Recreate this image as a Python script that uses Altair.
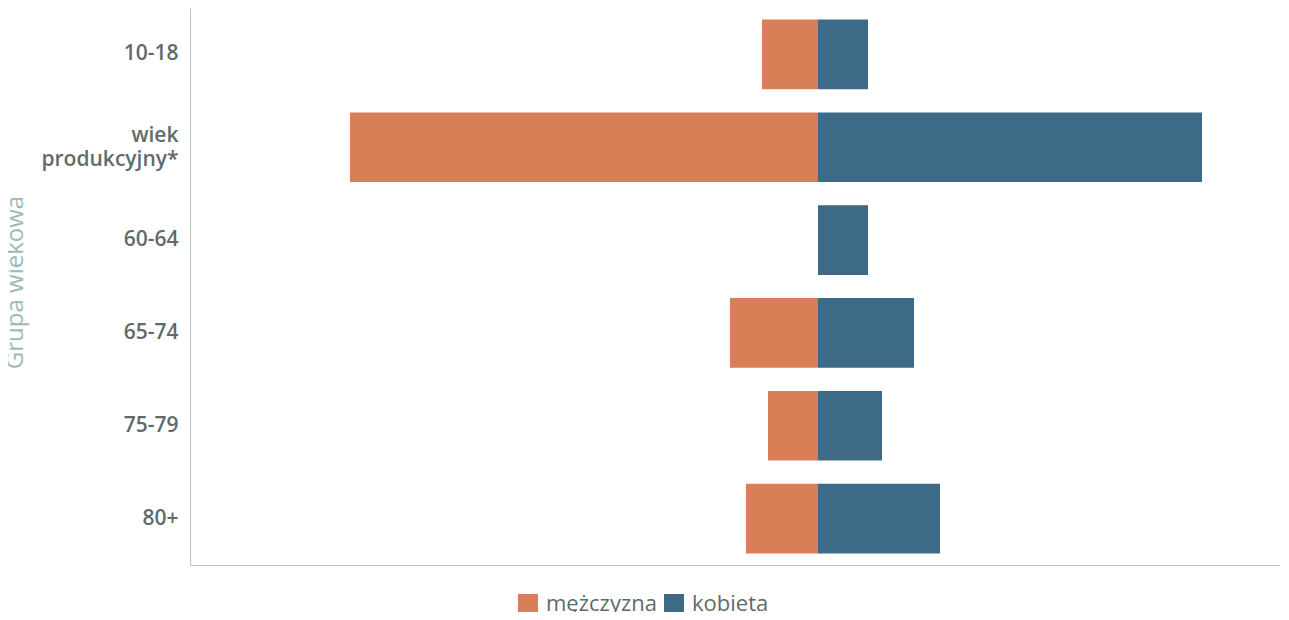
import altair as alt
import pandas as pd

groups = ["10-18", "wiek produkcyjny*", "60-64", "65-74", "75-79", "80+"]
male = [14, 117, 0, 22, 12.5, 18]
female = [12.5, 96, 12.5, 24, 16, 30.5]
sexes = ["mężczyzna", "kobieta"]
colors = ["#d97f57", "#3d6a87"]

rows = []
for g, m, f in zip(groups, male, female):
    rows.append({"grupa": g, "plec": sexes[0], "wartosc": -m})
    rows.append({"grupa": g, "plec": sexes[1], "wartosc": f})
df = pd.DataFrame(rows)

label_color = "#5f6b6b"
font = "Open Sans"

chart = alt.Chart(df).mark_bar().encode(
    y=alt.Y("grupa:N", sort=groups,
            scale=alt.Scale(paddingInner=0.25, paddingOuter=0.125),
            axis=alt.Axis(title="Grupa wiekowa", ticks=False, domainColor="#b9c4c2",
                          labelFont=font, labelFontSize=21, labelFontWeight=600,
                          labelColor=label_color, labelPadding=12, labelLineHeight=24,
                          labelOffset=alt.ExprRef(expr="datum.label == 'wiek produkcyjny*' ? -11 : 0"),
                          labelExpr="datum.label == 'wiek produkcyjny*' ? ['wiek', 'produkcyjny*'] : datum.label",
                          titleFont=font, titleFontSize=24, titleFontWeight="normal",
                          titleColor="#9bbab3", titleX=-175, titleY=274,
                          titleAlign="center", titleBaseline="middle")),
    x=alt.X("wartosc:Q", stack="zero",
            scale=alt.Scale(domain=[-157, 115.5], nice=False, zero=False),
            axis=alt.Axis(title=None, labels=False, ticks=False, grid=False,
                          domainColor="#b9c4c2")),
    color=alt.Color("plec:N", sort=sexes,
                    scale=alt.Scale(domain=sexes, range=colors),
                    legend=alt.Legend(title=None, orient="none", direction="horizontal",
                                      legendX=327, legendY=585, symbolType="square",
                                      symbolSize=400, symbolStrokeWidth=0,
                                      symbolOpacity=1, labelFont=font, labelFontSize=22,
                                      labelColor=label_color, columnPadding=6,
                                      labelOffset=7)),
    order=alt.Order("plec_order:Q"),
).transform_calculate(
    plec_order="datum.plec == 'mężczyzna' ? 0 : 1"
).properties(
    width=1090, height=557,
    autosize=alt.AutoSizeParams(type="none"),
    padding={"left": 182, "top": 0, "right": 0, "bottom": 47},
).configure_view(stroke=None).configure_axis(grid=False)

chart.save("out.html", embed_options={"renderer": "svg", "actions": False})
